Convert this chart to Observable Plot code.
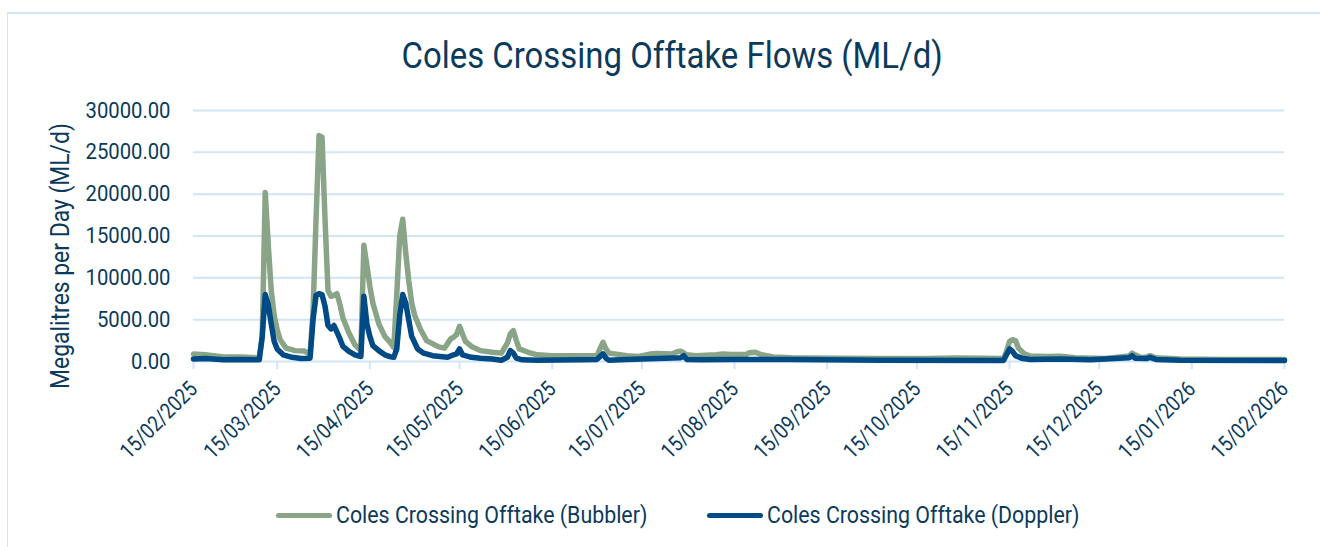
<!DOCTYPE html>
<html>
<head>
<meta charset="utf-8">
<script src="https://cdn.jsdelivr.net/npm/d3@7"></script>
<script src="https://cdn.jsdelivr.net/npm/@observablehq/plot@0.6"></script>
<style>
  html, body { margin: 0; padding: 0; background: #fff; }
  body { width: 1320px; height: 547px; position: relative; overflow: hidden; font-family: Roboto, sans-serif; color: #0b3a5c; }
  #frame { position: absolute; left: 7px; top: 12px; width: 1340px; height: 560px; border-left: 1px solid #cfe5f8; border-top: 2px solid #cfe5f8; box-sizing: border-box; }
  #title { position: absolute; left: 0; top: 0; width: 1344px; height: 90px; text-align: center; }
  #title span { display: inline-block; font-size: 37px; line-height: 37px; margin-top: 37px; transform: scaleX(0.89); transform-origin: center; white-space: nowrap; }
  #chart { position: absolute; left: 0; top: 90px; }
  .leg { position: absolute; top: 500px; height: 30px; display: flex; align-items: center; }
  .leg .sw { width: 56px; height: 5px; border-radius: 3px; }
  .leg .tx { font-size: 24px; white-space: nowrap; transform: scaleX(0.89); transform-origin: left center; margin-left: 4px; }
</style>
</head>
<body>
<div id="frame"></div>
<div id="title"><span>Coles Crossing Offtake Flows (ML/d)</span></div>
<div id="chart"></div>
<div id="legend"></div>
<script>
const titleText = "Coles Crossing Offtake Flows (ML/d)";
const yLabel = "Megalitres per Day (ML/d)";
const seriesNames = ["Coles Crossing Offtake (Bubbler)", "Coles Crossing Offtake (Doppler)"];
const seriesColors = ["#8aa487", "#004a86"];
const yTicks = [0, 5000, 10000, 15000, 20000, 25000, 30000];
const xTickDates = ["2025-02-15","2025-03-15","2025-04-15","2025-05-15","2025-06-15","2025-07-15","2025-08-15","2025-09-15","2025-10-15","2025-11-15","2025-12-15","2026-01-15","2026-02-15"];

const bubbler = [
  ["2025-02-15",900],["2025-02-19",800],["2025-02-25",550],["2025-03-03",550],["2025-03-08",450],["2025-03-09",450],
  ["2025-03-10",3000],["2025-03-11",20200],["2025-03-12",14000],["2025-03-13",8500],["2025-03-14",5500],["2025-03-15",3800],
  ["2025-03-16",2600],["2025-03-18",1600],["2025-03-21",1300],["2025-03-24",1250],["2025-03-26",900],["2025-03-27",6000],
  ["2025-03-28",17000],["2025-03-29",27000],["2025-03-30",26800],["2025-03-31",17000],["2025-04-01",8500],["2025-04-02",7800],
  ["2025-04-03",7900],["2025-04-04",8100],["2025-04-05",6800],["2025-04-06",5200],["2025-04-08",3400],["2025-04-10",2000],
  ["2025-04-12",1300],["2025-04-13",13900],["2025-04-14",11500],["2025-04-15",9000],["2025-04-16",7000],["2025-04-18",4500],
  ["2025-04-20",3000],["2025-04-22",2200],["2025-04-23",1700],["2025-04-24",8000],["2025-04-25",15000],["2025-04-26",17000],
  ["2025-04-27",13000],["2025-04-28",9700],["2025-04-29",7000],["2025-04-30",5500],["2025-05-02",3800],["2025-05-04",2500],
  ["2025-05-08",1750],["2025-05-10",1600],["2025-05-12",2700],["2025-05-13",2900],["2025-05-14",3200],["2025-05-15",4200],
  ["2025-05-16",3300],["2025-05-17",2400],["2025-05-19",1800],["2025-05-22",1300],["2025-05-26",1100],["2025-05-29",1000],
  ["2025-05-31",2200],["2025-06-01",3300],["2025-06-02",3700],["2025-06-03",2500],["2025-06-04",1500],["2025-06-07",1100],
  ["2025-06-10",800],["2025-06-15",700],["2025-06-30",700],["2025-07-01",1500],["2025-07-02",2300],["2025-07-03",1500],
  ["2025-07-04",1000],["2025-07-10",700],["2025-07-14",600],["2025-07-18",900],["2025-07-20",950],["2025-07-25",900],
  ["2025-07-27",1200],["2025-07-28",1230],["2025-07-30",800],["2025-08-02",700],["2025-08-09",800],["2025-08-11",900],
  ["2025-08-14",850],["2025-08-19",850],["2025-08-20",1050],["2025-08-22",1100],["2025-08-24",800],["2025-08-28",550],
  ["2025-09-03",450],["2025-09-18",380],["2025-10-03",350],["2025-10-18",350],["2025-10-28",420],["2025-11-07",400],
  ["2025-11-13",350],["2025-11-14",1200],["2025-11-15",2400],["2025-11-16",2600],["2025-11-17",2500],["2025-11-18",1600],
  ["2025-11-20",900],["2025-11-22",650],["2025-11-27",600],["2025-12-02",620],["2025-12-07",450],["2025-12-17",350],
  ["2025-12-25",650],["2025-12-26",1000],["2025-12-27",800],["2025-12-29",450],["2025-12-31",550],["2026-01-01",700],
  ["2026-01-03",450],["2026-01-11",300],["2026-01-26",250],["2026-02-15",250]
];

const doppler = [
  ["2025-02-15",300],["2025-02-19",350],["2025-02-25",200],["2025-03-03",250],["2025-03-09",200],["2025-03-10",3000],
  ["2025-03-11",8000],["2025-03-12",6800],["2025-03-13",4500],["2025-03-14",2400],["2025-03-15",1500],["2025-03-17",800],
  ["2025-03-20",500],["2025-03-23",350],["2025-03-26",400],["2025-03-27",5000],["2025-03-28",7900],["2025-03-29",8100],
  ["2025-03-30",8000],["2025-03-31",6600],["2025-04-01",4300],["2025-04-02",3900],["2025-04-03",4300],["2025-04-04",3500],
  ["2025-04-05",2700],["2025-04-06",1800],["2025-04-08",1200],["2025-04-10",800],["2025-04-12",600],["2025-04-13",7800],
  ["2025-04-14",4500],["2025-04-15",3000],["2025-04-16",1900],["2025-04-18",1300],["2025-04-20",800],["2025-04-22",550],
  ["2025-04-23",500],["2025-04-24",1500],["2025-04-25",5500],["2025-04-26",8000],["2025-04-27",7000],["2025-04-28",5000],
  ["2025-04-29",3000],["2025-05-01",1500],["2025-05-03",1000],["2025-05-06",700],["2025-05-11",500],["2025-05-13",800],
  ["2025-05-14",900],["2025-05-15",1500],["2025-05-16",800],["2025-05-19",500],["2025-05-22",400],["2025-05-26",300],
  ["2025-05-29",150],["2025-05-31",500],["2025-06-01",1300],["2025-06-02",1000],["2025-06-03",400],["2025-06-05",200],
  ["2025-06-10",150],["2025-06-25",200],["2025-06-30",250],["2025-07-01",600],["2025-07-02",900],["2025-07-03",400],
  ["2025-07-04",150],["2025-07-10",250],["2025-07-15",300],["2025-07-28",450],["2025-07-29",700],["2025-07-30",250],
  ["2025-08-04",200],["2025-08-14",250],["2025-09-03",250],["2025-10-03",150],["2025-11-13",120],["2025-11-14",800],
  ["2025-11-15",1500],["2025-11-16",1200],["2025-11-17",700],["2025-11-19",400],["2025-11-22",250],["2025-12-02",300],
  ["2025-12-12",200],["2025-12-25",450],["2025-12-26",700],["2025-12-27",400],["2025-12-31",350],["2026-01-01",500],
  ["2026-01-03",250],["2026-01-11",150],["2026-02-15",120]
];

const parse = d3.utcParse("%Y-%m-%d");
const toRows = (arr, name) => arr.map(([d, v]) => ({date: parse(d), value: v, series: name}));
const bubblerRows = toRows(bubbler, seriesNames[0]);
const dopplerRows = toRows(doppler, seriesNames[1]);
const xTicks = xTickDates.map(parse);
const grid = "#cfe5f8";
const ink = "#0b3a5c";

const chart = Plot.plot({
  width: 1320,
  height: 381,
  marginTop: 20,
  marginLeft: 193,
  marginRight: 36,
  marginBottom: 110,
  style: {fontFamily: "Roboto, sans-serif", color: ink, background: "transparent", overflow: "visible"},
  x: {type: "utc", domain: [xTicks[0], xTicks[xTicks.length - 1]]},
  y: {domain: [0, 30000]},
  marks: [
    Plot.gridY(yTicks, {stroke: grid, strokeOpacity: 1, strokeWidth: 2}),
    Plot.axisX(xTicks, {tickSize: 8, stroke: grid, strokeWidth: 2, text: null, label: null}),
    Plot.axisX(xTicks, {tickSize: 0, tickPadding: 24, tickRotate: -45, tickFormat: d3.utcFormat("%d/%m/%Y"), fontSize: 22, fill: ink, label: null, className: "xlab"}),
    Plot.axisY(yTicks, {tickSize: 0, tickPadding: 23, tickFormat: d3.format(".2f"), fontSize: 22, fill: ink, label: null, className: "ylab"}),
    Plot.line(bubblerRows, {x: "date", y: "value", stroke: seriesColors[0], strokeWidth: 5.5, strokeLinejoin: "round", strokeLinecap: "round"}),
    Plot.line(dopplerRows, {x: "date", y: "value", stroke: seriesColors[1], strokeWidth: 5.5, strokeLinejoin: "round", strokeLinecap: "round"}),
    Plot.text([yLabel], {frameAnchor: "left", textAnchor: "middle", rotate: -90, dx: -133, dy: 20, fontSize: 26, fill: ink, className: "ytitle"})
  ]
});
document.getElementById("chart").appendChild(chart);

// condensed look: compress glyph widths
function condense(sel, f) {
  chart.querySelectorAll(sel).forEach(t => {
    const w = t.getComputedTextLength();
    if (w > 0) { t.setAttribute("textLength", (w * f).toFixed(1)); t.setAttribute("lengthAdjust", "spacingAndGlyphs"); }
  });
}
condense(".xlab text", 0.84);
condense(".ylab text", 0.92);
condense(".ytitle text", 0.88);

// legend
const legend = document.getElementById("legend");
const legPos = [276, 707];
seriesNames.forEach((name, i) => {
  const item = document.createElement("div");
  item.className = "leg";
  item.style.left = legPos[i] + "px";
  const sw = document.createElement("div");
  sw.className = "sw";
  sw.style.background = seriesColors[i];
  const tx = document.createElement("span");
  tx.className = "tx";
  tx.textContent = name;
  item.appendChild(sw);
  item.appendChild(tx);
  legend.appendChild(item);
});
</script>
</body>
</html>
